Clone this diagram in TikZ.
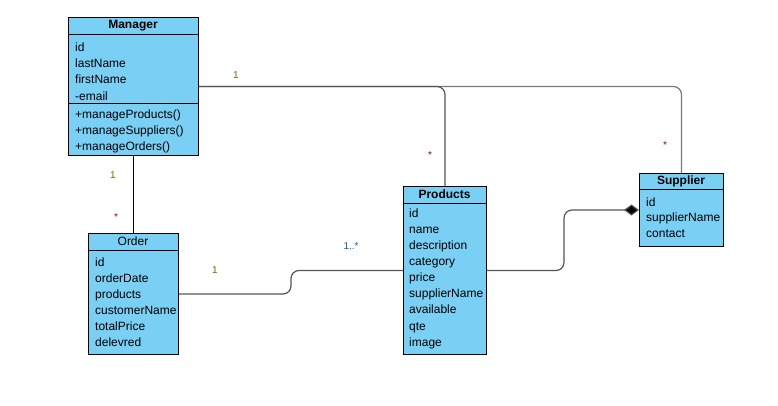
\documentclass[tikz,border=0pt]{standalone}
\usepackage{fontspec}
\setmainfont{Liberation Sans}
\usetikzlibrary{arrows.meta}
\definecolor{clsfill}{RGB}{122,207,245}
\definecolor{linegray}{RGB}{85,85,85}
\definecolor{lightline}{RGB}{120,120,120}
\definecolor{multone}{RGB}{140,90,0}
\definecolor{multstar}{RGB}{128,0,64}
\definecolor{multblue}{RGB}{16,96,160}
\tikzset{
  classbox/.style={draw=black, line width=1pt, fill=clsfill, anchor=north west, inner sep=0pt},
  ctitle/.style={font=\bfseries\fontsize{12}{14}\selectfont, inner sep=0pt},
  attr/.style={font=\fontsize{12}{14}\selectfont, inner sep=0pt, anchor=base west, text=black},
  sepline/.style={line width=1pt},
  conn/.style={draw=linegray, line width=1.2pt, rounded corners=8pt},
  mult/.style={font=\fontsize{10}{11}\selectfont, inner sep=0pt}
}
\begin{document}
\begin{tikzpicture}[x=1pt,y=-1pt]
\useasboundingbox (0,0) rectangle (778,405);

% Manager
\node[classbox, minimum width=130pt, minimum height=138pt] (mgr) at (68,17) {};
\node[ctitle] (mgrt) at (133,25.5) {Manager};
\draw[sepline] (68,34) -- (198,34);
\draw[sepline] (68,103) -- (198,103);
\foreach \t [count=\i from 0] in {id,lastName,firstName,-email}
  \node[attr] (mgra\i) at (75,{51.3+16.3*\i}) {\t};
\foreach \t [count=\i from 0] in {+manageProducts(),+manageSuppliers(),+manageOrders()}
  \node[attr] (mgrm\i) at (75,{118.3+16*\i}) {\t};

% Order
\node[classbox, minimum width=90pt, minimum height=121pt] (ord) at (88,233) {};
\node[ctitle, font=\fontsize{12}{14}\selectfont] (ordt) at (133,241.5) {Order};
\draw[sepline] (88,250) -- (178,250);
\foreach \t [count=\i from 0] in {id,orderDate,products,customerName,totalPrice,delevred}
  \node[attr] (orda\i) at (95,{266.3+16*\i}) {\t};

% Products
\node[classbox, minimum width=83pt, minimum height=168pt] (prod) at (403,186) {};
\node[ctitle] (prodt) at (444.5,194.5) {Products};
\draw[sepline] (403,203) -- (486,203);
\foreach \t [count=\i from 0] in {id,name,description,category,price,supplierName,available,qte,image}
  \node[attr] (proda\i) at (409,{217.3+16.1*\i}) {\t};

% Supplier
\node[classbox, minimum width=84pt, minimum height=73pt] (sup) at (639,173) {};
\node[ctitle] (supt) at (681,181) {Supplier};
\draw[sepline] (639,189) -- (723,189);
\foreach \t [count=\i from 0] in {id,supplierName,contact}
  \node[attr] (supa\i) at (646,{206.3+15.5*\i}) {\t};

% Connectors
\draw[conn, draw=lightline] (mgr.east) -| (sup.north);
\draw[conn] (mgr.east) -| (prod.north);
\draw[conn, draw=black, line width=1pt] (mgr.south) -- (ord.north);
\draw[conn] (ord.east) -- ++(112,0) |- (prod.west);
\draw[conn, -{Diamond[length=15pt,width=11pt,fill=black]}] (prod.east) -- ++(77,0) |- (sup.west);

% Multiplicities
\node[mult, text=multone] (m1) at (236,75) {1};
\node[mult, text=multstar] (m2) at (430,155) {*};
\node[mult, text=multstar] (m3) at (665,145) {*};
\node[mult, text=multone] (m4) at (113,175) {1};
\node[mult, text=multstar] (m5) at (116,217) {*};
\node[mult, text=multone] (m6) at (215,270) {1};
\node[mult, text=multblue] (m7) at (351,246) {1..*};
\end{tikzpicture}
\end{document}
